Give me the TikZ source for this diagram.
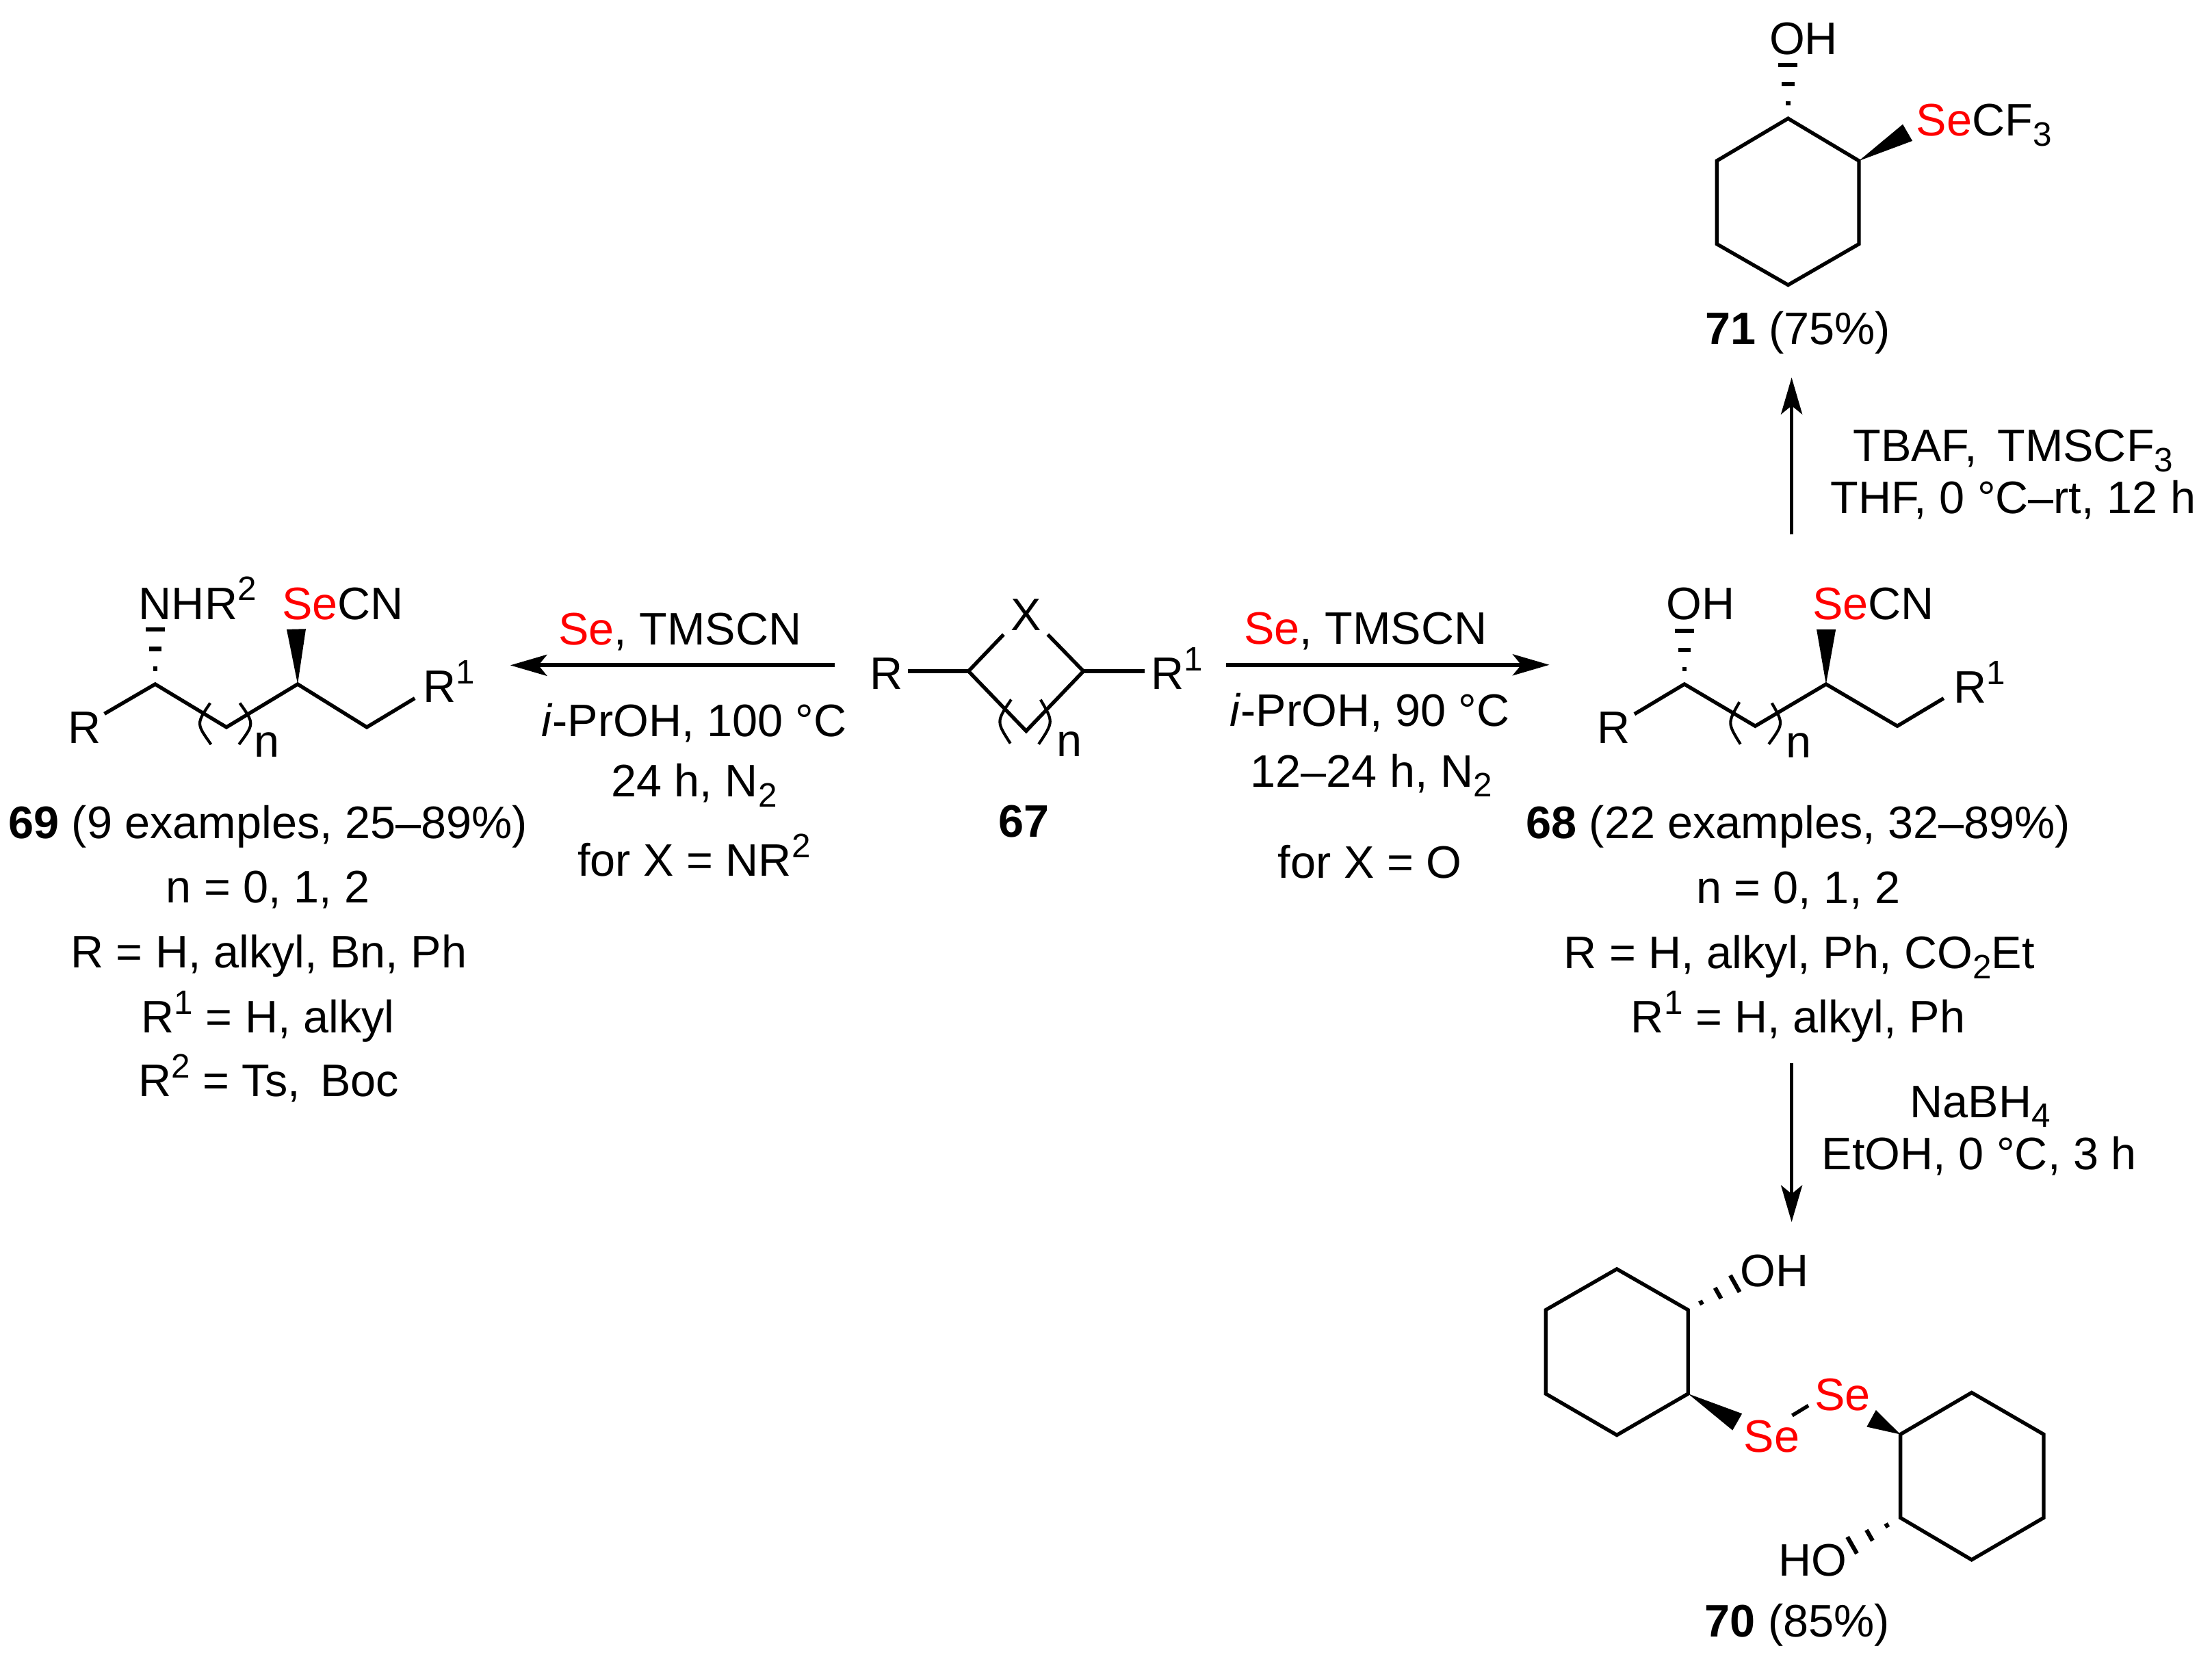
\documentclass[tikz,border=0pt]{standalone}
\usepackage{fontspec}
\setmainfont{Liberation Sans}
\usetikzlibrary{arrows.meta,calc}

\newcommand{\upnum}[1]{\raisebox{6.6pt}{\fontsize{12}{12}\selectfont #1}}
\newcommand{\downnum}[1]{\raisebox{-3.6pt}{\fontsize{12}{12}\selectfont #1}}
\newcommand{\se}{\textcolor{red}{Se}}
\newcommand{\hashbond}[2]{%
	\draw[hashline] ($(#1)!.28!(#2)!.8pt!90:(#2)$) -- ($(#1)!.28!(#2)!.8pt!-90:(#2)$);
	\draw[hashline] ($(#1)!.64!(#2)!2.2pt!90:(#2)$) -- ($(#1)!.64!(#2)!2.2pt!-90:(#2)$);
	\draw[hashline] ($(#2)!3.4pt!90:(#1)$) -- ($(#2)!3.4pt!-90:(#1)$);
}
\newcommand{\wedgebond}[2]{%
	\fill ($(#1)$) -- ($(#2)!3.4pt!90:(#1)$) -- ($(#2)!3.4pt!-90:(#1)$) -- cycle;
}

\begin{document}
\begin{tikzpicture}[x=0.5pt,y=-0.5pt,
	every node/.style={font=\fontsize{16.15}{19}\selectfont,inner sep=0pt},
	lbl/.style={anchor=base},
	lblw/.style={anchor=base west},
	bond/.style={line width=1.3pt,line join=miter},
	hashline/.style={line width=1.5pt},
	paren/.style={line width=1pt},
	rxnarrow/.style={line width=1.4pt,-{Stealth[length=13pt,width=7.5pt,inset=3pt]}}]
	\useasboundingbox (0,0) rectangle (1568,1182);

	% Start 67
		\coordinate (c67a) at (686.5,475.8);
		\coordinate (c67b) at (768,475.8);
		\coordinate (c67c) at (727.4,518.2);
		\coordinate (e67a) at (711.4,449.8);
		\coordinate (e67b) at (742.7,449.8);
		\coordinate (e67c) at (643.7,475.8);
		\coordinate (e67d) at (811.4,475.8);
		\node[lbl] (x67) at (727.4,447) {X};
		\node[lbl] (r67) at (628.3,488.6) {R};
		\node[lblw] (ra67) at (815.5,488.6) {R\upnum{1}};
		\node[lblw] (n67) at (748.8,536.4) {n};
		\node[lbl] (name67) at (726,593.4) {\textbf{67}};
		\draw[bond] (e67a) -- (c67a) -- (c67c) -- (c67b) -- (e67b);
		\draw[bond] (e67c) -- (c67a);
		\draw[bond] (c67b) -- (e67d);
		\draw[paren] (716.8,495.9) .. controls (706.2,511.5) .. (716.2,527);
		\draw[paren] (737.6,496) .. controls (746.8,511.7) .. (736.3,527.5);

	% Til 69
		\coordinate (w69s) at (591.6,471.6);
		\coordinate (w69e) at (361.7,471.6);
		\draw[rxnarrow] (w69s) -- (w69e);
		\node[lbl] (t69a) at (482,457) {\se, TMSCN};
		\node[lbl] (t69b) at (492,522) {\textit{i}-PrOH, 100 °C};
		\node[lbl] (t69c) at (492,564.7) {24 h, N\downnum{2}};
		\node[lbl] (t69d) at (492,621) {for X = NR\upnum{2}};

		\coordinate (c69a) at (110,485);
		\coordinate (c69b) at (160.5,515.5);
		\coordinate (c69c) at (211,485);
		\coordinate (c69d) at (260,515.5);
		\coordinate (e69a) at (74,506);
		\coordinate (e69b) at (294,495);
		\coordinate (h69) at (110,446);
		\coordinate (k69) at (210,446);
		\node[lblw] (nh69) at (98,439) {NHR\upnum{2}};
		\node[lblw] (se69) at (199.5,439) {\se CN};
		\node[lbl] (r69) at (60,527) {R};
		\node[lblw] (ra69) at (299.5,498) {R\upnum{1}};
		\node[lblw] (n69) at (180,536.6) {n};
		\draw[bond] (e69a) -- (c69a) -- (c69b) -- (c69c) -- (c69d) -- (e69b);
		\hashbond{c69a}{h69}
		\wedgebond{c69c}{k69}
		\draw[paren] (149,498.4) .. controls (139.1,513) .. (149.6,527.7);
		\draw[paren] (170,498.4) .. controls (180.3,513) .. (169.4,527.7);
		\node[lbl] (name69) at (190,594.5) {\textbf{69} (9 examples, 25--89\%)};
		\node[lbl] (s69a) at (190,640) {n = 0, 1, 2};
		\node[lbl] (s69b) at (190.5,686) {R = H, alkyl, Bn, Ph};
		\node[lbl] (s69c) at (190,732) {R\upnum{1} = H, alkyl};
		\node[lbl] (s69d) at (190.5,777.3) {R\upnum{2} = Ts, \,Boc};

	% Til 68
		\coordinate (w68s) at (869,471.3);
		\coordinate (w68e) at (1098.3,471.3);
		\draw[rxnarrow] (w68s) -- (w68e);
		\node[lbl] (t68a) at (968,456.7) {\se, TMSCN};
		\node[lbl] (t68b) at (971,515) {\textit{i}-PrOH, 90 °C};
		\node[lbl] (t68c) at (972,557.8) {12--24 h, N\downnum{2}};
		\node[lbl] (t68d) at (971,622.5) {for X = O};

		\coordinate (c68a) at (1194,485);
		\coordinate (c68b) at (1244.2,514.7);
		\coordinate (c68c) at (1294.4,485);
		\coordinate (c68d) at (1344.9,514.7);
		\coordinate (e68a) at (1158.6,506.2);
		\coordinate (e68b) at (1377.8,495);
		\coordinate (h68) at (1194,447);
		\coordinate (k68) at (1294.5,446.3);
		\node[lbl] (oh68) at (1205.3,439) {OH};
		\node[lblw] (se68) at (1284.5,439) {\se CN};
		\node[lbl] (r68) at (1143.8,527) {R};
		\node[lblw] (ra68) at (1384.3,498.4) {R\upnum{1}};
		\node[lblw] (n68) at (1265.6,536.9) {n};
		\draw[bond] (e68a) -- (c68a) -- (c68b) -- (c68c) -- (c68d) -- (e68b);
		\hashbond{c68a}{h68}
		\wedgebond{c68c}{k68}
		\draw[paren] (1233,497.7) .. controls (1224.5,512.6) .. (1233.7,527.5);
		\draw[paren] (1256,498.4) .. controls (1264.3,513) .. (1253.8,527.5);
		\node[lbl] (name68) at (1274.7,594.6) {\textbf{68} (22 examples, 32--89\%)};
		\node[lbl] (s68a) at (1274.6,640.6) {n = 0, 1, 2};
		\node[lbl] (s68b) at (1275.4,686.5) {R = H, alkyl, Ph, CO\downnum{2}Et};
		\node[lbl] (s68c) at (1274.6,732) {R\upnum{1} = H, alkyl, Ph};

	% Til 71
		\coordinate (w71s) at (1270,379);
		\coordinate (w71e) at (1270,267.6);
		\draw[rxnarrow] (w71s) -- (w71e);
		\node[lbl] (t71a) at (1427,327) {TBAF, \,TMSCF\downnum{3}};
		\node[lbl] (t71b) at (1427,364) {THF, 0 °C--rt, 12 h};

		\coordinate (c71a) at (1267.5,84);
		\coordinate (c71b) at (1317.7,114);
		\coordinate (c71c) at (1317.7,173);
		\coordinate (c71d) at (1267.5,202);
		\coordinate (c71e) at (1217,173);
		\coordinate (c71f) at (1217,114);
		\coordinate (h71) at (1267.5,46);
		\coordinate (k71) at (1352.2,94);
		\draw[bond] (c71a) -- (c71b) -- (c71c) -- (c71d) -- (c71e) -- (c71f) -- cycle;
		\hashbond{c71a}{h71}
		\wedgebond{c71b}{k71}
		\node[lbl] (oh71) at (1278.5,38.5) {OH};
		\node[lblw] (se71) at (1358,96.5) {\se CF\downnum{3}};
		\node[lbl] (name71) at (1274.6,244) {\textbf{71} (75\%)};

	% Til 70
		\coordinate (w70s) at (1270,753.8);
		\coordinate (w70e) at (1270,866.3);
		\draw[rxnarrow] (w70s) -- (w70e);
		\node[lbl] (t70a) at (1403.7,792) {NaBH\downnum{4}};
		\node[lbl] (t70b) at (1403,829.1) {EtOH, 0 °C, 3 h};

		\coordinate (c70a) at (1146.1,899.6);
		\coordinate (c70b) at (1196.6,928.6);
		\coordinate (c70c) at (1196.6,988);
		\coordinate (c70d) at (1146.1,1017.3);
		\coordinate (c70e) at (1095.7,988);
		\coordinate (c70f) at (1095.7,928.6);
		\coordinate (c70g) at (1347.1,1016.8);
		\coordinate (c70h) at (1397.6,987.2);
		\coordinate (c70i) at (1448.7,1016.8);
		\coordinate (c70j) at (1448.7,1075.9);
		\coordinate (c70k) at (1397.6,1105.7);
		\coordinate (c70l) at (1347.1,1075.9);
		\coordinate (h70a) at (1229.8,910);
		\coordinate (h70b) at (1312.9,1095.4);
		\coordinate (k70a) at (1231.5,1008);
		\coordinate (k70b) at (1326.5,1005.5);
		\coordinate (e70a) at (1270.4,1003.4);
		\coordinate (e70b) at (1281.9,996.4);
		\draw[bond] (c70a) -- (c70b) -- (c70c) -- (c70d) -- (c70e) -- (c70f) -- cycle;
		\draw[bond] (c70g) -- (c70h) -- (c70i) -- (c70j) -- (c70k) -- (c70l) -- cycle;
		\draw[bond] (e70a) -- (e70b);
		\hashbond{c70b}{h70a}
		\hashbond{c70l}{h70b}
		\wedgebond{c70c}{k70a}
		\wedgebond{c70g}{k70b}
		\node[lbl] (oh70) at (1258,912.2) {OH};
		\node[lbl] (ho70) at (1284.8,1117.2) {HO};
		\node[lbl] (se70a) at (1255.9,1029.3) {\se};
		\node[lbl] (se70b) at (1306.2,1000) {\se};
		\node[lbl] (name70) at (1274,1160.5) {\textbf{70} (85\%)};
\end{tikzpicture}
\end{document}
